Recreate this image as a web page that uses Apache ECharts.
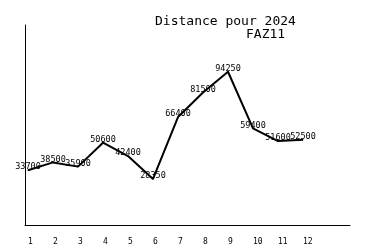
<!DOCTYPE html>
<html><head><meta charset="utf-8">
<script src="https://cdn.jsdelivr.net/npm/echarts@6/dist/echarts.min.js"></script>
<style>html,body{margin:0;padding:0;background:#fff}#c{width:375px;height:250px}</style>
</head><body><div id="c"></div>
<script>
const titleLine1 = "Distance pour 2024";
const titleLine2 = "FAZ11";
const months = [1,2,3,4,5,6,7,8,9,10,11,12];
const distances = [33700,38500,35900,50600,42400,28350,66400,81500,94250,59400,51600,52500];

const chart = echarts.init(document.getElementById('c'), null, {renderer:'canvas'});
const font = '"DejaVu Sans Mono", monospace';
chart.setOption({
  animation:false,
  backgroundColor:'#fff',
  title:[
    {text:titleLine1,left:155,top:15,padding:0,textStyle:{fontFamily:font,fontSize:13,fontWeight:'normal',color:'#000'}},
    {text:titleLine2,left:246,top:28,padding:0,textStyle:{fontFamily:font,fontSize:13,fontWeight:'normal',color:'#000'}}
  ],
  grid:{left:25,right:25,top:25,bottom:25},
  xAxis:{type:'value',min:0.88,max:13.88,
    axisLine:{show:true,onZero:false,lineStyle:{color:'#000',width:1}},
    axisTick:{show:false},splitLine:{show:false},
    axisLabel:{customValues:months,align:'left',margin:13,fontFamily:font,fontSize:8,color:'#000',
      formatter:v=>String(Math.round(v))}},
  yAxis:{type:'value',min:0,max:123000,
    axisLine:{show:true,lineStyle:{color:'#000',width:1}},
    axisTick:{show:false},axisLabel:{show:false},splitLine:{show:false}},
  series:[{type:'line',data:months.map((m,i)=>[m,distances[i]]),
    symbol:'circle',symbolSize:1,showSymbol:true,itemStyle:{color:'#000'},
    lineStyle:{color:'#000',width:2},
    label:{show:true,position:'top',distance:0,offset:[0,2],fontFamily:font,fontSize:8.5,color:'#000',
      formatter:p=>String(p.value[1])}}]
});
</script></body></html>
